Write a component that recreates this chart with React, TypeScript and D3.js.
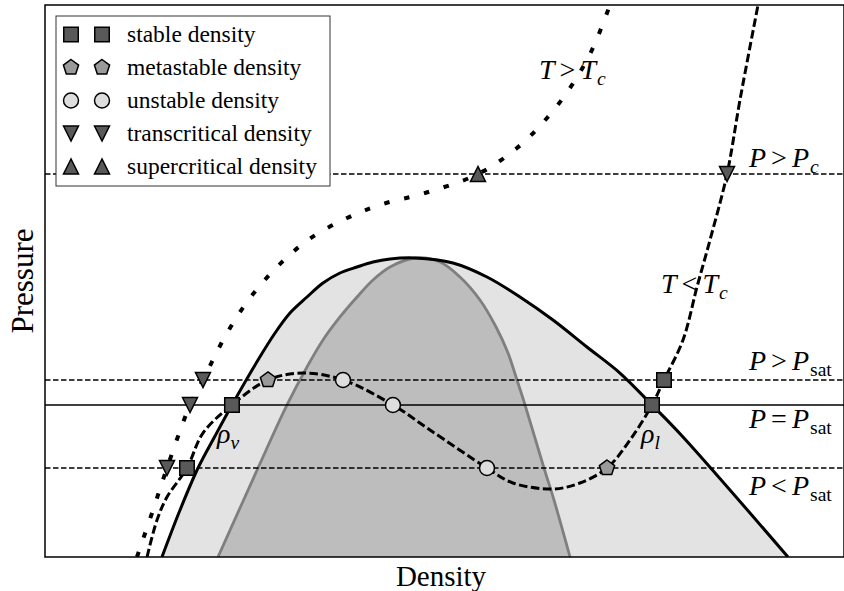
import React from "react";
import * as d3 from "d3";

// Pressure levels of the horizontal reference lines (arbitrary units)
const P_LOW = 16.12;
const P_SAT = 27.54;
const P_HIGH = 32.07;
const P_CRIT = 69.38;

// Saturation dome (binodal): [density, pressure]
const binodal: [number, number][] = [
  [14.64, 0], [16.9, 8.51], [19.15, 16.12], [21.28, 21.92], [23.4, 27.54],
  [26.66, 35.69], [28.79, 40.58], [30.66, 44.2], [32.79, 47.1], [34.79, 49.64],
  [36.92, 51.45], [39.05, 52.54], [41.05, 53.44], [43.18, 53.99], [46.31, 54.17],
  [51.06, 53.26], [55.32, 50.72], [59.45, 47.1], [63.58, 42.93], [67.83, 38.04],
  [71.96, 33.33], [75.97, 27.54], [79.85, 21.74], [92.99, 0],
];

// Spinodal curve
const spinodal: [number, number][] = [
  [21.65, 0], [26.66, 16.12], [30.29, 27.54], [32.79, 34.42], [34.79, 39.31],
  [36.92, 43.48], [39.05, 47.1], [41.05, 50.18], [43.18, 52.54], [46.31, 54.17],
  [49.44, 53.44], [51.94, 50.72], [54.44, 46.56], [56.45, 41.67], [57.95, 36.96],
  [59.07, 32.07], [60.08, 27.54], [62.45, 16.12], [63.7, 10.33], [65.71, 0],
];

// Subcritical isotherm (T < Tc)
const isothermSub: [number, number][] = [
  [12.77, 0], [14.02, 6.7], [15.27, 10.87], [17.77, 16.12], [19.77, 22.46],
  [23.4, 27.54], [27.91, 32.07], [32.29, 33.33], [37.3, 32.07], [43.55, 27.54],
  [48.19, 23.01], [55.32, 16.12], [58.57, 13.41], [63.58, 12.32], [66.96, 13.41],
  [70.34, 16.12], [73.22, 21.2], [75.97, 27.54], [77.47, 32.07], [79.85, 39.31],
  [81.6, 48.91], [83.23, 57.43], [85.36, 69.38], [86.98, 82.79], [89.24, 100],
];

// Supercritical isotherm (T > Tc)
const isothermSuper: [number, number][] = [
  [11.51, 0], [13.52, 8.51], [15.27, 16.12], [18.15, 27.54], [19.77, 32.07],
  [22.78, 40.58], [25.66, 46.92], [29.04, 52.54], [32.92, 57.43], [37.8, 61.41],
  [42.3, 63.95], [47.56, 65.94], [54.19, 69.38], [59.07, 74.09], [62.83, 79.53],
  [65.96, 85.51], [68.46, 91.85], [70.71, 100],
];

// Density roots on each pressure level
const stablePts: [number, number][] = [[17.77, P_LOW], [23.4, P_SAT], [75.97, P_SAT], [77.47, P_HIGH]];
const metastablePts: [number, number][] = [[27.91, P_HIGH], [70.34, P_LOW]];
const unstablePts: [number, number][] = [[37.3, P_HIGH], [43.55, P_SAT], [55.32, P_LOW]];
const transcriticalPts: [number, number][] = [[15.27, P_LOW], [18.15, P_SAT], [19.77, P_HIGH], [85.36, P_CRIT]];
const supercriticalPts: [number, number][] = [[54.19, P_CRIT]];

const legendLabels = [
  "stable density",
  "metastable density",
  "unstable density",
  "transcritical density",
  "supercritical density",
];

const W = 844;
const H = 591;
const X0 = 45, X1 = 844, Y0 = 5, Y1 = 557;
const SERIF = "'Liberation Serif', 'DejaVu Serif', serif";

type Kind = "square" | "pentagon" | "circle" | "triDown" | "triUp";

function markerPath(kind: Kind, s: number): string {
  const p = d3.path();
  const h = s / 2;
  if (kind === "square") {
    p.rect(-h, -h, s, s);
  } else if (kind === "circle") {
    p.moveTo(h, 0);
    p.arc(0, 0, h, 0, 2 * Math.PI);
    p.closePath();
  } else if (kind === "pentagon") {
    for (let k = 0; k < 5; k++) {
      const a = -Math.PI / 2 + (k * 2 * Math.PI) / 5;
      const px = h * Math.cos(a), py = h * Math.sin(a);
      if (k === 0) p.moveTo(px, py); else p.lineTo(px, py);
    }
    p.closePath();
  } else if (kind === "triDown") {
    p.moveTo(0, h); p.lineTo(-h, -h); p.lineTo(h, -h); p.closePath();
  } else {
    p.moveTo(0, -h); p.lineTo(-h, h); p.lineTo(h, h); p.closePath();
  }
  return p.toString();
}

const markerStyles: { kind: Kind; fill: string; size: number }[] = [
  { kind: "square", fill: "#595959", size: 14.5 },
  { kind: "pentagon", fill: "#9a9a9a", size: 16 },
  { kind: "circle", fill: "#dedede", size: 15 },
  { kind: "triDown", fill: "#595959", size: 15 },
  { kind: "triUp", fill: "#595959", size: 15 },
];

function MathLabel(props: { x: number; y: number; a: string; rel: string; b: string; s: string; subItalic?: boolean; size: number }) {
  const { x, y, a, rel, b, s, subItalic, size } = props;
  const sub = size * 0.7;
  return (
    <text x={x} y={y} fontSize={size}>
      <tspan fontStyle="italic">{a}</tspan>
      <tspan dx={5}>{rel}</tspan>
      <tspan dx={5} fontStyle="italic">{b}</tspan>
      <tspan fontStyle={subItalic ? "italic" : "normal"} fontSize={sub} dx={1} dy={size * 0.22}>{s}</tspan>
    </text>
  );
}

export default function App() {
  const x = d3.scaleLinear().domain([0, 100]).range([X0, X1]);
  const y = d3.scaleLinear().domain([0, 100]).range([Y1, Y0]);

  const line = d3.line<[number, number]>().x((d) => x(d[0])).y((d) => y(d[1])).curve(d3.curveCatmullRom.alpha(0.5));
  const area = d3.area<[number, number]>().x((d) => x(d[0])).y0(y(0)).y1((d) => y(d[1])).curve(d3.curveCatmullRom.alpha(0.5));

  const markerSets: [number, number][][] = [stablePts, metastablePts, unstablePts, transcriticalPts, supercriticalPts];

  const hLines = [
    { p: P_CRIT, dash: "5.5 2.5" },
    { p: P_HIGH, dash: "5.5 2.5" },
    { p: P_SAT, dash: undefined },
    { p: P_LOW, dash: "5.5 2.5" },
  ];

  const fs = 28;

  return (
    <svg width={W} height={H} style={{ position: "absolute", left: 0, top: 0, background: "#fff" }} fontFamily={SERIF}>
      <defs>
        <clipPath id="plotClip">
          <rect x={X0} y={Y0} width={X1 - X0} height={Y1 - Y0} />
        </clipPath>
      </defs>
      <rect x={0} y={0} width={W} height={H} fill="#fff" />
      <g clipPath="url(#plotClip)">
        <path d={area(binodal) ?? ""} fill="#e3e3e3" />
        <path d={area(spinodal) ?? ""} fill="#bdbdbd" />
        <path d={line(spinodal) ?? ""} fill="none" stroke="#7f7f7f" strokeWidth={2.8} />
        <path d={line(binodal) ?? ""} fill="none" stroke="#000" strokeWidth={3} />
        {hLines.map((l, i) => (
          <line key={i} x1={X0} x2={X1} y1={y(l.p)} y2={y(l.p)} stroke="#000" strokeWidth={1.5} strokeDasharray={l.dash} />
        ))}
        <path d={line(isothermSuper) ?? ""} fill="none" stroke="#000" strokeWidth={4} strokeDasharray="5.5 15" />
        <path d={line(isothermSub) ?? ""} fill="none" stroke="#000" strokeWidth={3} strokeDasharray="8.5 3.5" />
        {markerSets.map((pts, si) =>
          pts.map((d, j) => (
            <path
              key={`${si}-${j}`}
              d={markerPath(markerStyles[si].kind, markerStyles[si].size)}
              transform={`translate(${x(d[0])},${y(d[1])})`}
              fill={markerStyles[si].fill}
              stroke="#000"
              strokeWidth={1.5}
            />
          ))
        )}
      </g>

      {/* curve and level labels */}
      <g fill="#000">
        <MathLabel x={539} y={79} a="T" rel=">" b="T" s="c" subItalic size={fs} />
        <MathLabel x={661} y={293} a="T" rel="<" b="T" s="c" subItalic size={fs} />
        <MathLabel x={749} y={167} a="P" rel=">" b="P" s="c" subItalic size={fs} />
        <MathLabel x={749} y={370} a="P" rel=">" b="P" s="sat" size={fs} />
        <MathLabel x={749} y={428} a="P" rel="=" b="P" s="sat" size={fs} />
        <MathLabel x={749} y={495} a="P" rel="<" b="P" s="sat" size={fs} />
        <text x={217} y={443} fontSize={fs}>
          <tspan fontStyle="italic">ρ</tspan>
          <tspan fontStyle="italic" fontSize={fs * 0.7} dy={fs * 0.22}>v</tspan>
        </text>
        <text x={641} y={443} fontSize={fs}>
          <tspan fontStyle="italic">ρ</tspan>
          <tspan fontStyle="italic" fontSize={fs * 0.7} dy={fs * 0.22}>l</tspan>
        </text>
      </g>

      {/* axes frame */}
      <rect x={X0} y={Y0} width={X1 - X0} height={Y1 - Y0} fill="none" stroke="#000" strokeWidth={1.5} />

      {/* axis titles */}
      <text x={441} y={586} textAnchor="middle" fontSize={29}>Density</text>
      <text transform={`translate(33,${(Y0 + Y1) / 2}) rotate(-90)`} textAnchor="middle" fontSize={31}>Pressure</text>

      {/* legend */}
      <g>
        <rect x={56} y={16} width={274} height={170} fill="#fff" stroke="#333" strokeWidth={1} />
        {legendLabels.map((lab, i) => {
          const cy = 34.5 + i * 33;
          const st = markerStyles[i];
          return (
            <g key={lab}>
              {[71, 102].map((cx) => (
                <path
                  key={cx}
                  d={markerPath(st.kind, st.size)}
                  transform={`translate(${cx},${cy})`}
                  fill={st.fill}
                  stroke="#000"
                  strokeWidth={1.5}
                />
              ))}
              <text x={127} y={cy + 7.5} fontSize={23.5}>{lab}</text>
            </g>
          );
        })}
      </g>
    </svg>
  );
}
